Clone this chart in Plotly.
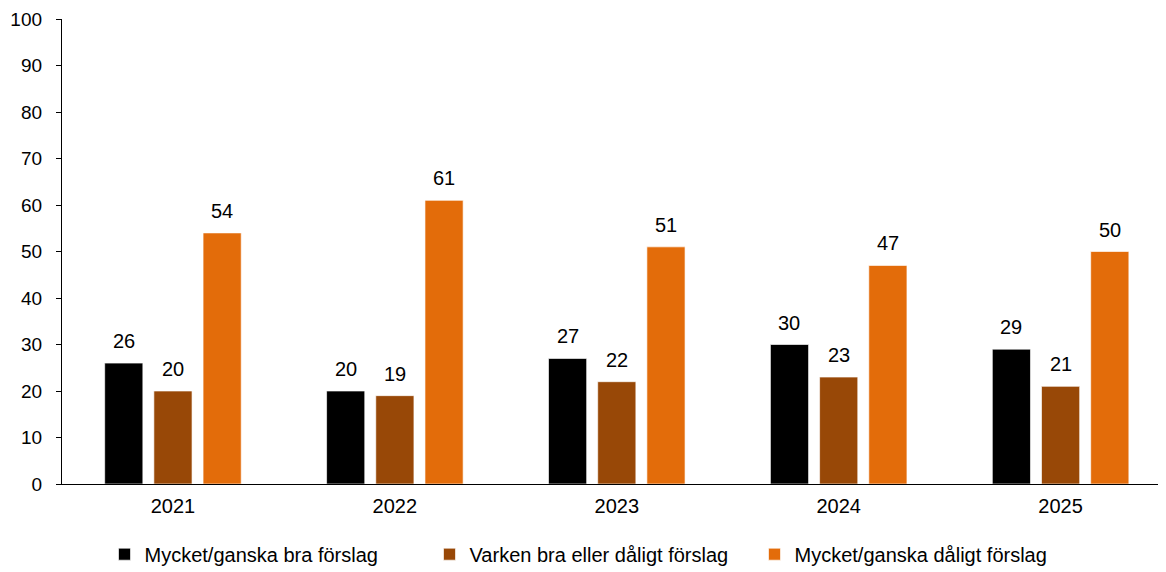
import plotly.graph_objects as go

years = ['2021', '2022', '2023', '2024', '2025']
series_names = ['Mycket/ganska bra förslag',
                'Varken bra eller dåligt förslag',
                'Mycket/ganska dåligt förslag']
good = [26, 20, 27, 30, 29]
neutral = [20, 19, 22, 23, 21]
bad = [54, 61, 51, 47, 50]
colors = ['#000000', '#984807', '#E36C0A']

font_family = 'Liberation Sans, Arial, sans-serif'

fig = go.Figure()
for name, vals, col in zip(series_names, [good, neutral, bad], colors):
    fig.add_trace(go.Bar(x=years, y=vals, name=name,
                         marker=dict(color=col,
                                     line=dict(color='rgba(255,255,255,0.8)',
                                               width=0.8))))

# value labels above bars (category index + pixel shift per series)
shifts = [-49.2, 0, 49.2]
for vals, xs in zip([good, neutral, bad], shifts):
    for i, v in enumerate(vals):
        fig.add_annotation(x=i, y=v, xref='x', yref='y', text=str(v),
                           showarrow=False, xshift=xs, yshift=9,
                           yanchor='bottom',
                           font=dict(size=20, color='black'))

# page body has an 8px margin, so the figure is sized to the rest
fig.update_layout(
    width=1158, height=564,
    margin=dict(l=54, r=0, t=11, b=88, autoexpand=False),
    plot_bgcolor='white', paper_bgcolor='white',
    font=dict(family=font_family, size=20, color='black'),
    barmode='group', bargap=0.335, bargroupgap=0.224,
    showlegend=True,
    legend=dict(orientation='h', x=0.0385, xanchor='left', y=-0.109,
                yanchor='top', font=dict(size=20), itemwidth=30,
                entrywidth=280, entrywidthmode='pixels',
                traceorder='normal'),
)
fig.update_xaxes(type='category', range=[-0.5, 4.475], showline=True,
                 linecolor='black', linewidth=1.3, ticks='', showgrid=False,
                 ticklabelstandoff=4, tickfont=dict(size=20))
fig.update_yaxes(range=[0, 100], dtick=10, showline=True, linecolor='black',
                 linewidth=1.3, ticks='outside', ticklen=5, tickwidth=1.3,
                 tickcolor='black', showgrid=False, zeroline=False,
                 ticklabelstandoff=10, ticklabeloverflow='allow',
                 tickfont=dict(size=19))

fig.write_html('out.html')
